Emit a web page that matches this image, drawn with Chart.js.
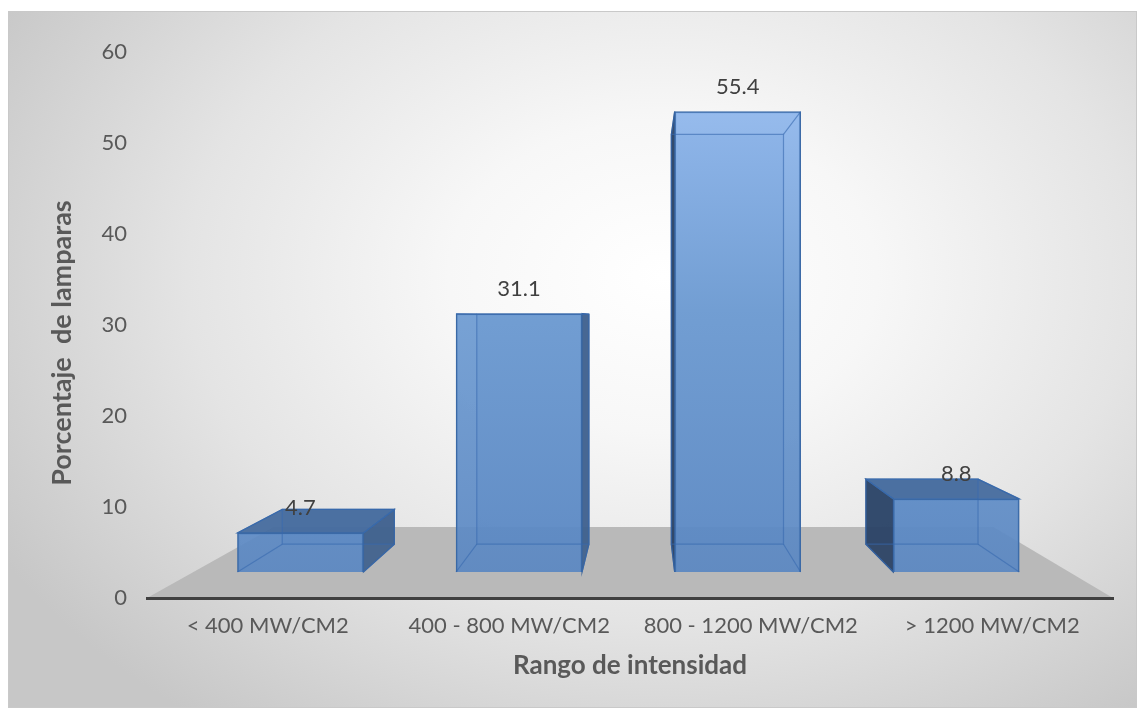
<!DOCTYPE html>
<html>
<head>
<meta charset="utf-8">
<script src="https://cdn.jsdelivr.net/npm/chart.js@4.4.1/dist/chart.umd.min.js"></script>
<style>
  html, body { margin: 0; padding: 0; background: #fff; }
  #frame {
    position: absolute; left: 8px; top: 11px; width: 1127px; height: 695px;
    border: 1px solid #c9c9c9;
    background: radial-gradient(ellipse 68% 80% at 58% 38%, #ffffff 0%, #f7f7f7 28%, #e4e4e4 62%, #c7c7c7 100%);
  }
  #wrap { position: absolute; left: 0; top: 0; width: 1144px; height: 718px; }
</style>
</head>
<body>
<div id="frame"></div>
<div id="wrap"><canvas id="chart"></canvas></div>
<script>
const categories = ['< 400 MW/CM2', '400 - 800 MW/CM2', '800 - 1200 MW/CM2', '> 1200 MW/CM2'];
const percentages = [4.7, 31.1, 55.4, 8.8];
const yTicks = [0, 10, 20, 30, 40, 50, 60];
const yTitle = 'Porcentaje  de lamparas';
const xTitle = 'Rango de intensidad';

Chart.defaults.font.family = 'Lato, "Open Sans", sans-serif';

// --- fake 3D (Excel style perspective) ---
const VANISH = { fx: 0.515, fy: 0.49 };   // vanishing point as fraction of chart area
const BAR_DEPTH = 0.11;
const FLOOR_DEPTH = 0.255;

function vanish(a) {
  return { x: a.left + VANISH.fx * (a.right - a.left), y: a.top + VANISH.fy * (a.bottom - a.top) };
}
function toward(p, vp, k) { return { x: p.x + k * (vp.x - p.x), y: p.y + k * (vp.y - p.y) }; }
function poly(ctx, pts, fill, stroke, lw) {
  ctx.beginPath();
  ctx.moveTo(pts[0].x, pts[0].y);
  for (let i = 1; i < pts.length; i++) ctx.lineTo(pts[i].x, pts[i].y);
  ctx.closePath();
  if (fill) { ctx.fillStyle = fill; ctx.fill(); }
  if (stroke) { ctx.strokeStyle = stroke; ctx.lineWidth = lw || 1; ctx.stroke(); }
}
function barCorners(bar) {
  const { x, y, base, width } = bar.getProps(['x', 'y', 'base', 'width'], true);
  const l = x - width / 2, r = x + width / 2;
  return [{ x: l, y: y }, { x: r, y: y }, { x: r, y: base }, { x: l, y: base }];
}

const floor3d = {
  id: 'floor3d',
  beforeDraw(chart) {
    const { ctx, chartArea: a } = chart;
    const vp = vanish(a);
    const fl = { x: a.left, y: a.bottom }, fr = { x: a.right, y: a.bottom };
    ctx.save();
    poly(ctx, [fl, fr, toward(fr, vp, FLOOR_DEPTH), toward(fl, vp, FLOOR_DEPTH)], '#b9b9b9');
    ctx.restore();
  }
};

const bars3d = {
  id: 'bars3d',
  beforeDatasetsDraw(chart) {
    const { ctx, chartArea: a } = chart;
    const vp = vanish(a);
    ctx.save();
    chart.getDatasetMeta(0).data.forEach(bar => {
      const c = barCorners(bar);
      const k = c.map(p => toward(p, vp, BAR_DEPTH));
      poly(ctx, k, 'rgba(85,130,190,0.45)');
      if (c[1].x < vp.x) poly(ctx, [c[1], k[1], k[2], c[2]], 'rgba(62,96,140,0.92)', '#3b6499', 1.2);
      if (c[0].x > vp.x) poly(ctx, [c[0], k[0], k[3], c[3]], 'rgba(42,66,100,0.93)', '#2f5486', 1.2);
      if (c[0].y > vp.y) poly(ctx, [c[0], c[1], k[1], k[0]], 'rgba(70,108,158,0.95)', '#3b6aa6', 1.2);
    });
    ctx.restore();
  },
  afterDatasetsDraw(chart) {
    const { ctx, chartArea: a } = chart;
    const vp = vanish(a);
    ctx.save();
    chart.getDatasetMeta(0).data.forEach((bar, i) => {
      const c = barCorners(bar);
      const k = c.map(p => toward(p, vp, BAR_DEPTH));
      // edges of the back box seen through the transparent front
      ctx.strokeStyle = 'rgba(55,105,175,0.6)';
      ctx.lineWidth = 1.2;
      poly(ctx, k, null, 'rgba(55,105,175,0.6)', 1.2);
      ctx.beginPath();
      for (let j = 0; j < 4; j++) { ctx.moveTo(c[j].x, c[j].y); ctx.lineTo(k[j].x, k[j].y); }
      ctx.stroke();
      // value label
      ctx.fillStyle = '#404040';
      ctx.font = '22px Lato, "Open Sans", sans-serif';
      ctx.textAlign = 'center';
      ctx.textBaseline = 'middle';
      ctx.fillText(String(percentages[i]), bar.x, bar.y - 25);
    });
    ctx.restore();
  }
};

const yTitlePlugin = {
  id: 'yTitle',
  afterDraw(chart) {
    const { ctx } = chart;
    ctx.save();
    ctx.translate(62, 343);
    ctx.rotate(-Math.PI / 2);
    ctx.fillStyle = '#595959';
    ctx.font = 'bold 27px Lato, "Open Sans", sans-serif';
    ctx.textAlign = 'center';
    ctx.textBaseline = 'middle';
    ctx.fillText(yTitle, 0, 0);
    ctx.restore();
  }
};

function frontFill(context) {
  const chart = context.chart;
  const a = chart.chartArea;
  if (!a) return 'rgba(91,135,194,0.9)';
  const g = chart.ctx.createLinearGradient(0, a.top, 0, a.bottom);
  g.addColorStop(0, 'rgba(154,192,242,0.92)');
  g.addColorStop(0.11, 'rgba(141,181,235,0.92)');
  g.addColorStop(0.48, 'rgba(108,154,209,0.92)');
  g.addColorStop(0.95, 'rgba(90,135,194,0.92)');
  g.addColorStop(1, 'rgba(90,135,194,0.92)');
  return g;
}

new Chart(document.getElementById('chart'), {
  type: 'bar',
  data: {
    labels: categories,
    datasets: [{
      data: percentages.map((v, i) => ({ x: i, y: v })),
      xAxisID: 'xb',
      yAxisID: 'yb',
      barThickness: 126,
      backgroundColor: frontFill,
      borderColor: '#3a69a6',
      borderWidth: 1.5
    }]
  },
  options: {
    responsive: true,
    maintainAspectRatio: false,
    animation: false,
    layout: { padding: { top: 52, right: 31, left: 0, bottom: 0 } },
    plugins: { legend: { display: false }, tooltip: { enabled: false } },
    scales: {
      x: {
        type: 'category',
        position: 'bottom',
        offset: true,
        grid: { display: false, drawTicks: false },
        border: { display: true, color: '#404040', width: 3 },
        ticks: { color: '#595959', font: { size: 22 }, padding: 15, maxRotation: 0, autoSkip: false },
        title: { display: true, text: xTitle, color: '#595959', font: { size: 26, weight: 'bold' }, padding: { top: 0, bottom: 37 } },
        afterFit: s => { s.height = 120; }
      },
      y: {
        type: 'linear',
        position: 'left',
        min: 0,
        max: 60,
        grid: { display: false, drawTicks: false },
        border: { display: false },
        ticks: { color: '#595959', font: { size: 22 }, padding: 20 },
        afterBuildTicks: s => { s.ticks = yTicks.map(v => ({ value: v })); },
        afterFit: s => { s.width = 147; }
      },
      // hidden scales that place the 3D boxes the way Excel's perspective does
      xb: { type: 'linear', display: false, offset: false, min: -0.702, max: 3.717 },
      yb: { type: 'linear', display: false, min: -3.13, max: 62.57 }
    }
  },
  plugins: [floor3d, bars3d, yTitlePlugin]
});
</script>
</body>
</html>
